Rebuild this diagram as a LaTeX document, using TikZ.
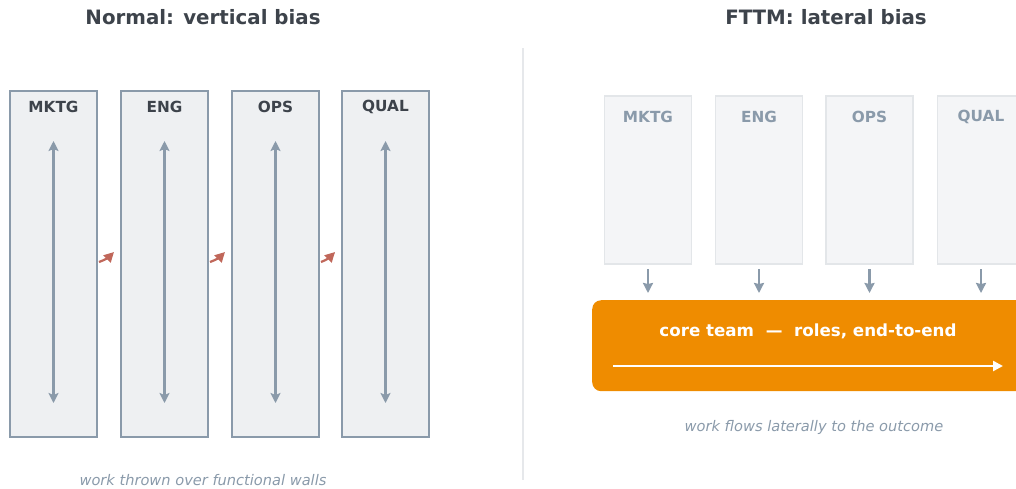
\documentclass[tikz,border=0pt]{standalone}
\usepackage{fontspec}
\setmainfont{DejaVu Sans}
\usetikzlibrary{arrows.meta}
\definecolor{dark}{HTML}{3D434B}
\definecolor{slate}{HTML}{8A9AAA}
\definecolor{colfill}{HTML}{EEF0F2}
\definecolor{colfillb}{HTML}{F4F5F7}
\definecolor{colline}{HTML}{E3E6E9}
\definecolor{orangeb}{HTML}{EF8C00}
\definecolor{redarr}{HTML}{C0675A}
\definecolor{divider}{HTML}{E6E8EB}
\tikzset{
  title/.style={font=\fontsize{19.8}{22}\selectfont\bfseries, text=dark},
  oldcol/.style={draw=slate, fill=colfill, line width=2pt, minimum width=87pt, minimum height=346pt, inner sep=0pt},
  newcol/.style={draw=colline, fill=colfillb, line width=1.8pt, minimum width=87pt, minimum height=168pt, inner sep=0pt},
  oldlab/.style={font=\fontsize{15.3}{17}\selectfont\bfseries, text=dark},
  newlab/.style={font=\fontsize{15.3}{17}\selectfont\bfseries, text=slate},
  vert/.style={draw=slate, line width=2.2pt, {Stealth[length=10pt,width=10pt,inset=2pt]}-{Stealth[length=10pt,width=10pt,inset=2pt]}},
  down/.style={draw=slate, line width=2.2pt, -{Stealth[length=10pt,width=10pt,inset=1pt]}},
  throw/.style={draw=redarr, line width=2.2pt, -{Triangle[length=10pt,width=10pt]}},
  caption/.style={font=\fontsize{14.6}{17}\selectfont\itshape, text=slate},
}
\begin{document}
\begin{tikzpicture}[x=1pt,y=-1pt]
\path[use as bounding box] (0,0) rectangle (1016,488);
\clip (0,0) rectangle (1016,488);
% titles
\node[title] (t1) at (203,17) {Normal: vertical bias};
\node[title] (t2) at (826,17) {FTTM: lateral bias};
% divider
\coordinate (d1) at (523,48);
\coordinate (d2) at (523,480);
\draw[divider, line width=1.4pt] (d1) -- (d2);
% left columns
\foreach \n/\x/\t in {a/53.5/MKTG, b/164.5/ENG, c/275.5/OPS, d/385.5/QUAL}{
  \node[oldcol] (\n) at (\x,264) {};
  \node[oldlab] (\n l) at (\x,107) {\t};
  \coordinate (\n top) at (\x,141);
  \coordinate (\n bot) at (\x,403);
  \draw[vert] (\n top) -- (\n bot);
}
\foreach \p/\q in {a/b, b/c, c/d}{
  \draw[throw] ([xshift=1pt,yshift=2pt]\p.east) to[out=20,in=225] ([xshift=-6pt,yshift=12pt]\q.west);
}
\node[caption] (cap1) at (203,480) {work thrown over functional walls};
% right columns
\foreach \n/\x/\t in {e/648/MKTG, f/759/ENG, g/869.5/OPS, h/981/QUAL}{
  \node[newcol] (\n) at (\x,180) {};
  \node[newlab] (\n l) at (\x,117) {\t};
  \coordinate (\n s) at (\x,269);
  \coordinate (\n t) at (\x,293);
  \draw[down] (\n s) -- (\n t);
}
% orange box
\node[fill=orangeb, rounded corners=9pt, minimum width=440pt, minimum height=91pt, anchor=north west, inner sep=0pt] (core) at (592,300) {};
\node[font=\fontsize{16.7}{19}\selectfont\bfseries, text=white] (corel) at (808,331) {core team\ \ —\ \ roles, end-to-end};
\coordinate (ar1) at (613,366);
\coordinate (ar2) at (1003,366);
\draw[white, line width=2.4pt, -{Triangle[length=10pt,width=10pt]}] (ar1) -- (ar2);
\node[caption] (cap2) at (814,427) {work flows laterally to the outcome};
\end{tikzpicture}
\end{document}
